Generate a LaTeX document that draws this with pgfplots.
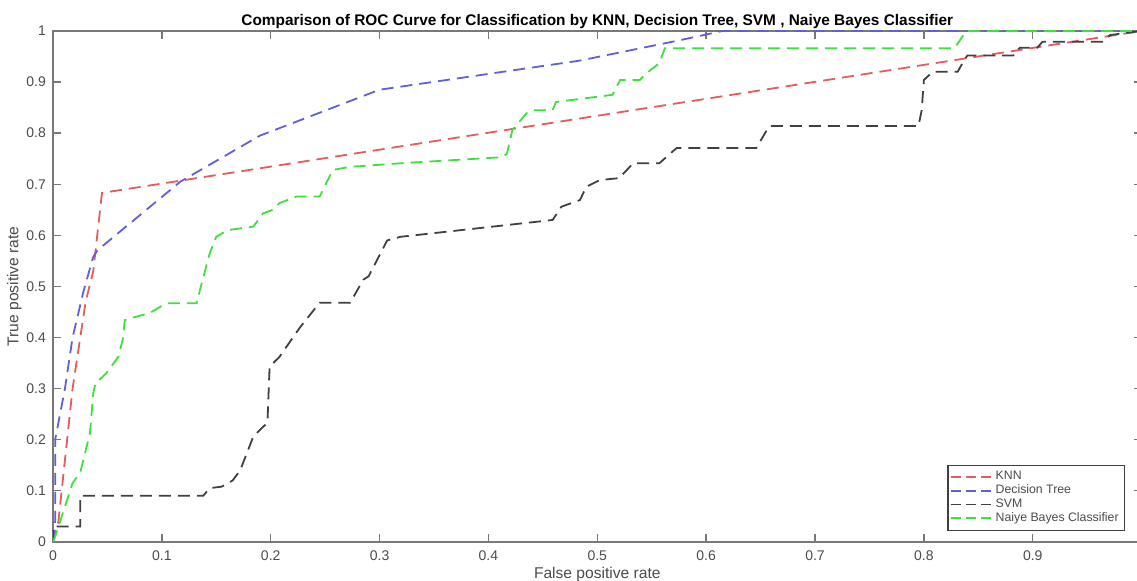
\documentclass[border=0pt]{standalone}
\usepackage{pgfplots}
\pgfplotsset{compat=1.18}
\usepackage{fontspec}
\setmainfont{Liberation Sans}
\definecolor{knnred}{RGB}{228,92,92}
\definecolor{dtblue}{RGB}{95,95,220}
\definecolor{svmgray}{RGB}{64,64,64}
\definecolor{nbgreen}{RGB}{60,225,60}
\definecolor{axisgray}{RGB}{120,120,120}
\definecolor{labelgray}{RGB}{75,75,75}
\begin{document}
\begin{tikzpicture}
\begin{axis}[
    name=ax,
    scale only axis, width=544.5pt, height=255.5pt,
    xmin=0, xmax=1, ymin=0, ymax=1,
    xtick={0,0.1,0.2,0.3,0.4,0.5,0.6,0.7,0.8,0.9,1},
    ytick={0,0.1,0.2,0.3,0.4,0.5,0.6,0.7,0.8,0.9,1},
    xtick pos=both, ytick pos=both,
    tick align=inside, major tick length=4pt,
    axis line style={axisgray, line width=0.9pt},
    every tick/.style={axisgray, line width=0.7pt},
    tick label style={font=\fontsize{7}{8}\selectfont, text=labelgray},
    xticklabel style={yshift=-1pt},
    /pgf/number format/assume math mode=true,
    xlabel={False positive rate},
    ylabel={True positive rate},
    label style={font=\fontsize{7.8}{9}\selectfont, text=labelgray},
    xlabel style={yshift=3.5pt},
    ylabel style={yshift=-4.5pt},
    title={Comparison of ROC Curve for Classification by KNN, Decision Tree, SVM , Naiye Bayes Classifier},
    title style={font=\bfseries\fontsize{7.7}{9}\selectfont, yshift=-8.5pt},
    legend style={at={(0.985,0.0215)}, anchor=south east, draw=black!75,
      line width=0.6pt, font=\fontsize{6.15}{6.8}\selectfont, text=labelgray,
      inner sep=1pt, row sep=-3pt},
    legend cell align=left,
    legend image code/.code={\draw[#1, dash pattern=on 5pt off 2.5pt] (0pt,0pt) -- (20pt,0pt);},
    every axis plot/.append style={line width=0.9pt, dash pattern=on 6pt off 3.5pt},
  ]
  \addplot[knnred] coordinates {(0,0)(0.005,0.04)(0.008,0.1)(0.018,0.3)(0.03,0.47)(0.037,0.53)(0.045,0.683)(1,1)};
  \addlegendentry{KNN}
  \addplot[dtblue] coordinates {(0,0)(0.002,0.04)(0.002,0.2)(0.011,0.3)(0.018,0.4)(0.028,0.49)(0.037,0.558)(0.041,0.571)
    (0.117,0.705)(0.19,0.795)(0.30,0.885)(0.484,0.942)(0.576,0.982)(0.615,1)(1,1)};
  \addlegendentry{Decision Tree}
  \addplot[svmgray] coordinates {(0,0)(0,0.03)(0.025,0.03)(0.025,0.09)(0.138,0.09)(0.144,0.105)(0.155,0.108)(0.165,0.12)
    (0.172,0.14)(0.184,0.206)(0.193,0.225)(0.197,0.233)(0.199,0.343)(0.208,0.362)(0.227,0.42)(0.242,0.46)(0.245,0.468)
    (0.273,0.468)(0.285,0.513)(0.29,0.52)(0.307,0.59)(0.319,0.597)(0.459,0.63)(0.467,0.656)(0.484,0.669)(0.49,0.695)
    (0.502,0.708)(0.52,0.712)(0.533,0.741)(0.557,0.741)(0.567,0.76)(0.573,0.771)(0.646,0.771)(0.658,0.814)(0.795,0.814)
    (0.798,0.845)(0.80,0.904)(0.808,0.92)(0.831,0.92)(0.837,0.943)(0.84,0.952)(0.882,0.952)(0.888,0.967)(0.904,0.967)
    (0.909,0.979)(0.964,0.979)(0.971,0.992)(1,1)};
  \addlegendentry{SVM}
  \addplot[nbgreen] coordinates {(0,0)(0.002,0.01)(0.018,0.115)(0.025,0.135)(0.034,0.213)(0.037,0.29)(0.039,0.31)(0.049,0.33)
    (0.06,0.362)(0.064,0.395)(0.066,0.434)(0.072,0.438)(0.089,0.448)(0.104,0.467)(0.132,0.467)(0.135,0.493)(0.144,0.565)
    (0.15,0.597)(0.16,0.61)(0.184,0.617)(0.193,0.643)(0.202,0.65)(0.208,0.663)(0.224,0.676)(0.245,0.676)(0.257,0.728)
    (0.273,0.734)(0.319,0.741)(0.413,0.753)(0.417,0.76)(0.422,0.806)(0.435,0.839)(0.441,0.845)(0.459,0.845)(0.462,0.861)
    (0.514,0.875)(0.521,0.904)(0.539,0.904)(0.545,0.917)(0.557,0.937)(0.562,0.966)(0.828,0.966)(0.839,1)(1,1)};
  \addlegendentry{Naiye Bayes Classifier}
\end{axis}
\pgfresetboundingbox
\path[use as bounding box] ([xshift=-26.5pt,yshift=-19.5pt]ax.south west) rectangle ([xshift=-2.3pt,yshift=15.5pt]ax.north east);
\end{tikzpicture}
\end{document}
